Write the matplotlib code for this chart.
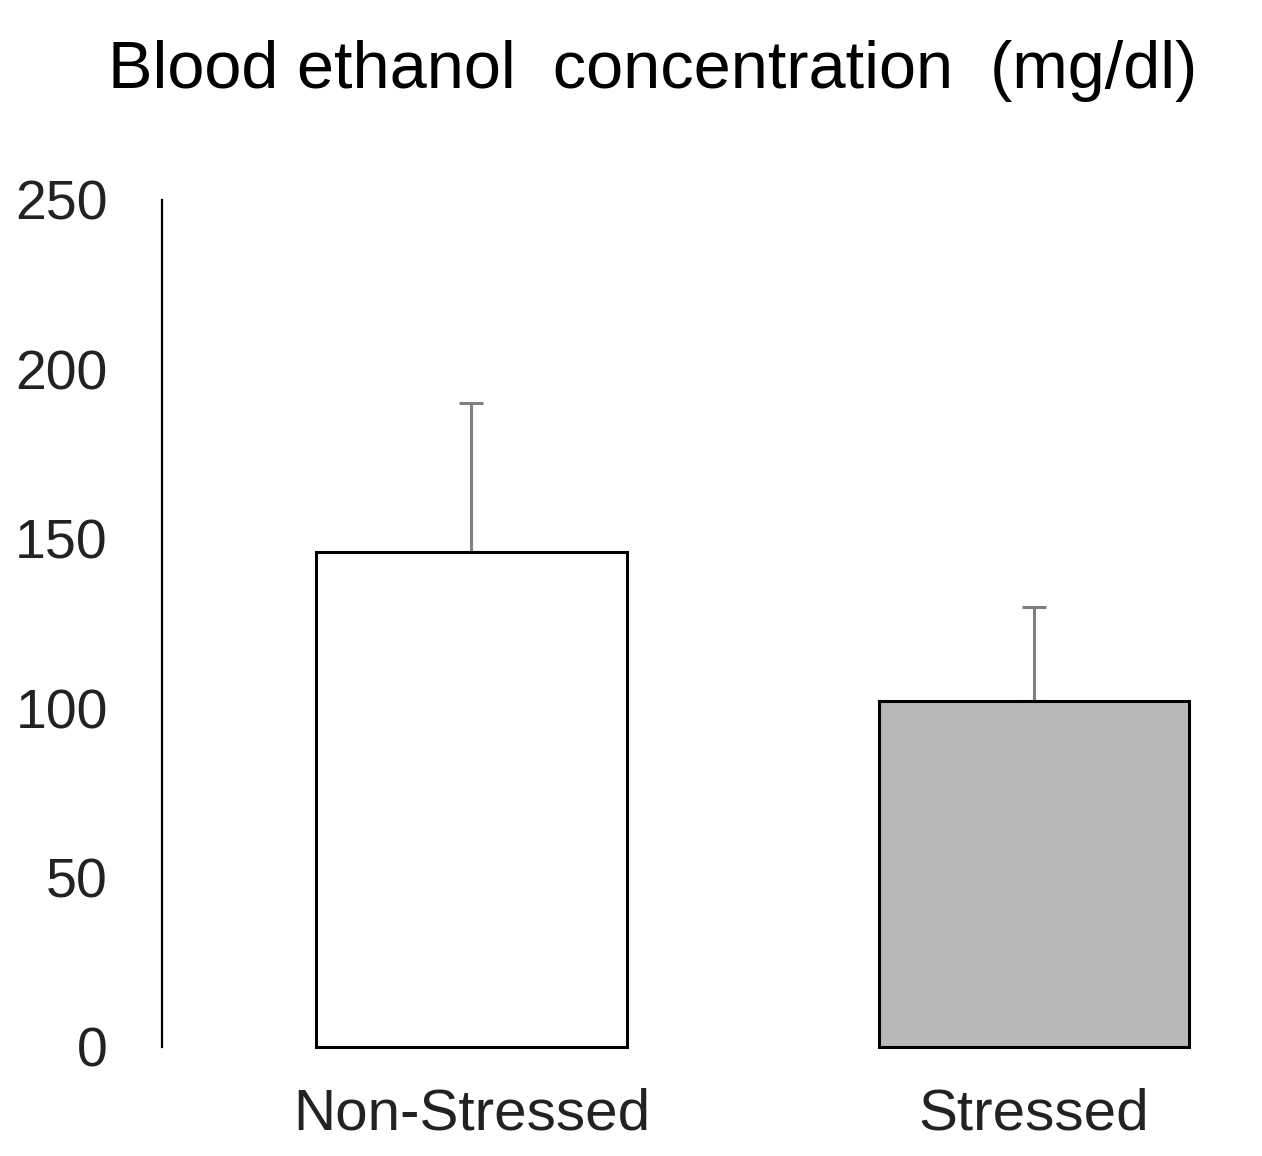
import numpy as np
import matplotlib
matplotlib.use("Agg")
import matplotlib.pyplot as plt

plt.rcParams['font.family'] = ['Liberation Sans', 'DejaVu Sans']

# data
groups = ["Non-Stressed", "Stressed"]
means = [146, 102]
sem_upper = [44, 28]
bar_colors = ["white", "#b8b8b8"]
y_ticks = [0, 50, 100, 150, 200, 250]

fig = plt.figure(figsize=(12.62, 11.56), dpi=100)
ax = fig.add_axes([0.1284, 0.0943, 0.8692, 0.7327])

x = np.arange(len(groups))
bars = ax.bar(x, means, width=0.552, color=bar_colors, edgecolor="black", linewidth=2.2, zorder=3)
for b in bars:
    b.set_clip_on(False)
ax.errorbar(x, means, yerr=[np.zeros(len(means)), sem_upper], fmt="none",
            ecolor="#7f7f7f", elinewidth=2.2, capsize=8.6, capthick=2.2, zorder=2)

ax.set_xlim(-0.55, 1.4)
ax.set_ylim(0, 250)
ax.set_yticks(y_ticks)
ax.set_xticks(x)
ax.set_xticklabels(groups)

for side in ["top", "right", "bottom"]:
    ax.spines[side].set_visible(False)
ax.spines["left"].set_linewidth(1.6)
ax.spines["left"].set_color("black")

ax.tick_params(axis="y", length=0, pad=39, labelsize=40, labelcolor="#222222")
ax.tick_params(axis="x", length=0, pad=29, labelsize=42, labelcolor="#222222")

# title sits above the axes, centred on the figure width
fig.text(653 / 1262, 1 - 88 / 1156, "Blood ethanol  concentration  (mg/dl)",
         ha="center", va="baseline", fontsize=48, color="black")

fig.savefig("out.png", dpi=100)
